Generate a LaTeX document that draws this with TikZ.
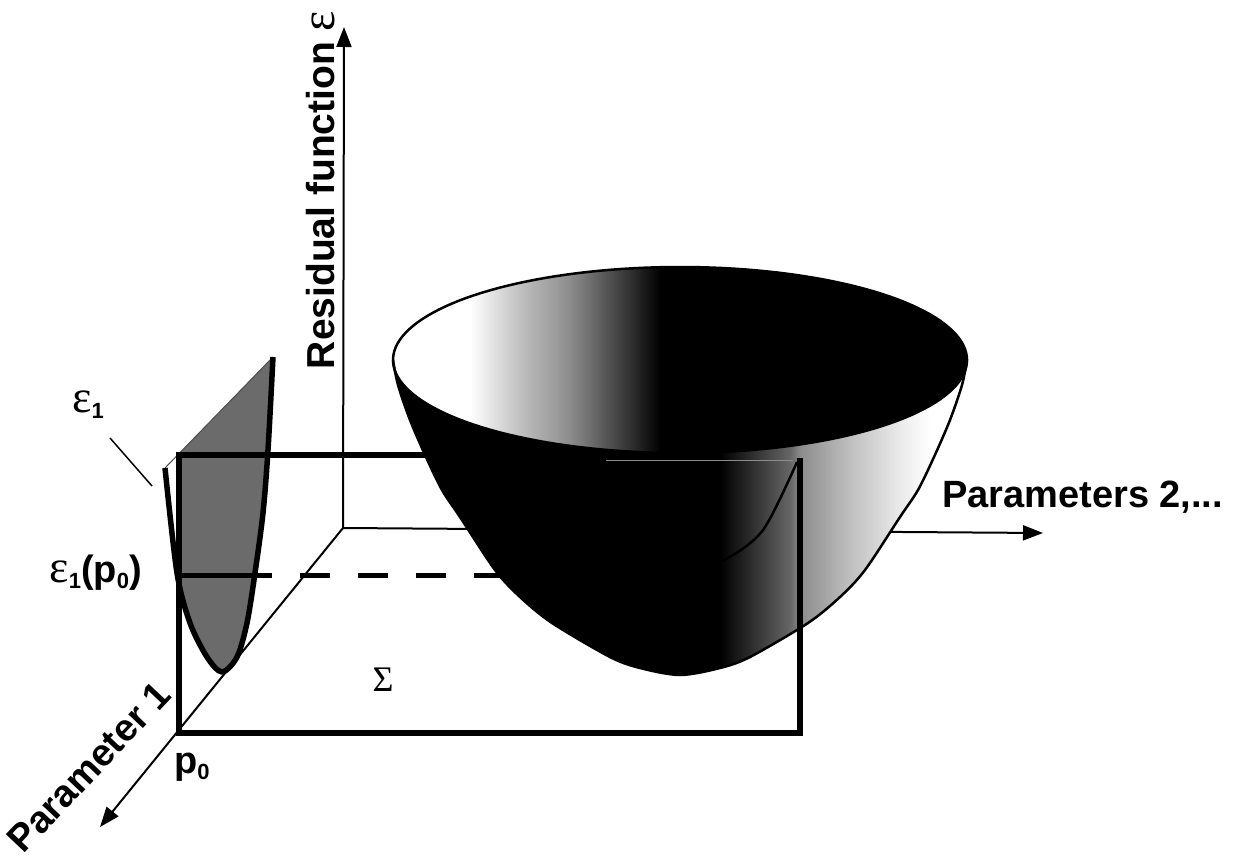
\documentclass[tikz,border=0pt]{standalone}
\usepackage{fontspec}
\setmainfont{Liberation Sans}
\newfontfamily\serf{Liberation Serif}
\usetikzlibrary{arrows.meta}
\pgfdeclarehorizontalshading{bowlout}{100bp}{color(0bp)=(black); color(25bp)=(black); color(53.5bp)=(black); color(59.6bp)=(black!60); color(60.5bp)=(black!45); color(64.8bp)=(black!25); color(69.2bp)=(black!8); color(71.8bp)=(white); color(75bp)=(white); color(100bp)=(white)}
\pgfdeclarehorizontalshading{bowlin}{100bp}{color(0bp)=(white); color(25bp)=(white); color(31.7bp)=(white); color(36.1bp)=(black!25); color(40.4bp)=(black!45); color(44.8bp)=(black!75); color(48.3bp)=(black); color(75bp)=(black); color(100bp)=(black)}
\newcommand\lowsub[1]{\raisebox{-6pt}{\fontsize{22}{22}\selectfont #1}}
\newcommand\epsglyph{{\serf\mdseries\fontsize{46}{46}\selectfont ε}}
\begin{document}
\begin{tikzpicture}[x=1pt,y=-1pt,
  font=\fontsize{38}{40}\selectfont\bfseries,
  ax/.style={line width=2pt,-{Triangle[length=20pt,width=15pt]}},
  frame/.style={line width=6pt},
  lbl/.style={inner sep=0pt}]
\useasboundingbox (0,0) rectangle (1234,861);
\fill[white] (0,0) rectangle (1234,861);
% coordinates
\coordinate (O) at (343,528);
\coordinate (Ytip) at (344,27);
\coordinate (Xtip) at (1043,533);
\coordinate (Ptip) at (100,827);
\coordinate (A) at (179,455);
\coordinate (B) at (800,455);
\coordinate (C) at (800,733);
\coordinate (D) at (179,733);
\coordinate (Cr) at (800,458);
\coordinate (d0) at (179,575);
\coordinate (d1) at (272,575);
\coordinate (d2) at (300,575);
\coordinate (d3) at (600,575);
\coordinate (l1) at (110,438);
\coordinate (l2) at (152,486);
% axes
\draw[ax] (O) -- (Ytip);
\draw[ax] (O) -- (Xtip);
\draw[ax] (O) -- (Ptip);
% small parabola fill
\begin{scope}
\clip (179,300) rectangle (320,700);
\fill[black!58] plot[smooth] coordinates {(165,468) (177,573) (190,623) (207,657) (222,672) (237,657) (247,623) (255,573) (263,513) (268,450) (273,357)} -- cycle;
\end{scope}
\draw[line width=1pt,black!70] (165,468) -- (273,357);
% rectangle and dashed line
\draw[frame] (A) -- (B) -- (C) -- (D) -- cycle;
\draw[line width=5pt] (d0) -- (d1);
\draw[line width=5pt,dash pattern=on 30pt off 28pt] (d2) -- (d3);
% small parabola outline
\draw[line width=5.5pt,line join=round] plot[smooth] coordinates {(165,468) (177,573) (190,623) (207,657) (222,672) (237,657) (247,623) (255,573) (263,513) (268,450) (273,357)};
% bowl outer surface
\shade[shading=bowlout] plot[smooth] coordinates {(393,360) (398,385) (410,420) (426,457) (442,490) (460,517) (495,570) (520,597) (552,623) (610,657) (640,668) (680,675) (720,668) (750,657) (808,623) (840,597) (865,570) (900,517) (918,490) (934,457) (950,420) (962,385) (967,360)} -- plot[domain=0:180,samples=80] ({680+287*cos(\x)},{360+93*sin(\x)}) -- cycle;
% bowl inner surface
\shade[shading=bowlin] plot[domain=0:360,samples=160] ({680+287*cos(\x)},{360+93*sin(\x)}) -- cycle;
% highlight and cross-section
\draw[black!45,line width=0.7pt] (606,460) -- (793,460);
\draw[line width=2.5pt] plot[smooth] coordinates {(648,565) (686,569) (724,560) (763,530) (797,462)};
% outlines
\draw[line width=2.5pt] plot[smooth] coordinates {(393,360) (398,385) (410,420) (426,457) (442,490) (460,517) (495,570) (520,597) (552,623) (610,657) (640,668) (680,675) (720,668) (750,657) (808,623) (840,597) (865,570) (900,517) (918,490) (934,457) (950,420) (962,385) (967,360)};
\draw[line width=2.5pt] plot[domain=0:360,samples=160] ({680+287*cos(\x)},{360+93*sin(\x)}) -- cycle;
% front edge of plane
\draw[frame] (Cr) -- (C);
% labels
\node[lbl,anchor=base,rotate=90] (res) at (334,190) {\fontsize{39}{40}\selectfont Residual function {\serf\mdseries\fontsize{48}{48}\selectfont ε}};
\node[lbl,anchor=base west] (par2) at (942,507) {Parameters 2,...};
\node[lbl,rotate=46.6] (par1) at (89,767) {Parameter 1};
\node[lbl,anchor=base west] (p0) at (174,773) {p\lowsub{0}};
\node[lbl] (sig) at (383,680) {\serf\mdseries\fontsize{36}{36}\selectfont Σ};
\node[lbl] (e1) at (88,405) {\epsglyph\lowsub{1}};
\draw[line width=1.5pt] (l1) -- (l2);
\node[lbl,anchor=east] (e1p0) at (142,573) {\epsglyph\lowsub{1}(p\lowsub{0})};
\end{tikzpicture}
\end{document}
